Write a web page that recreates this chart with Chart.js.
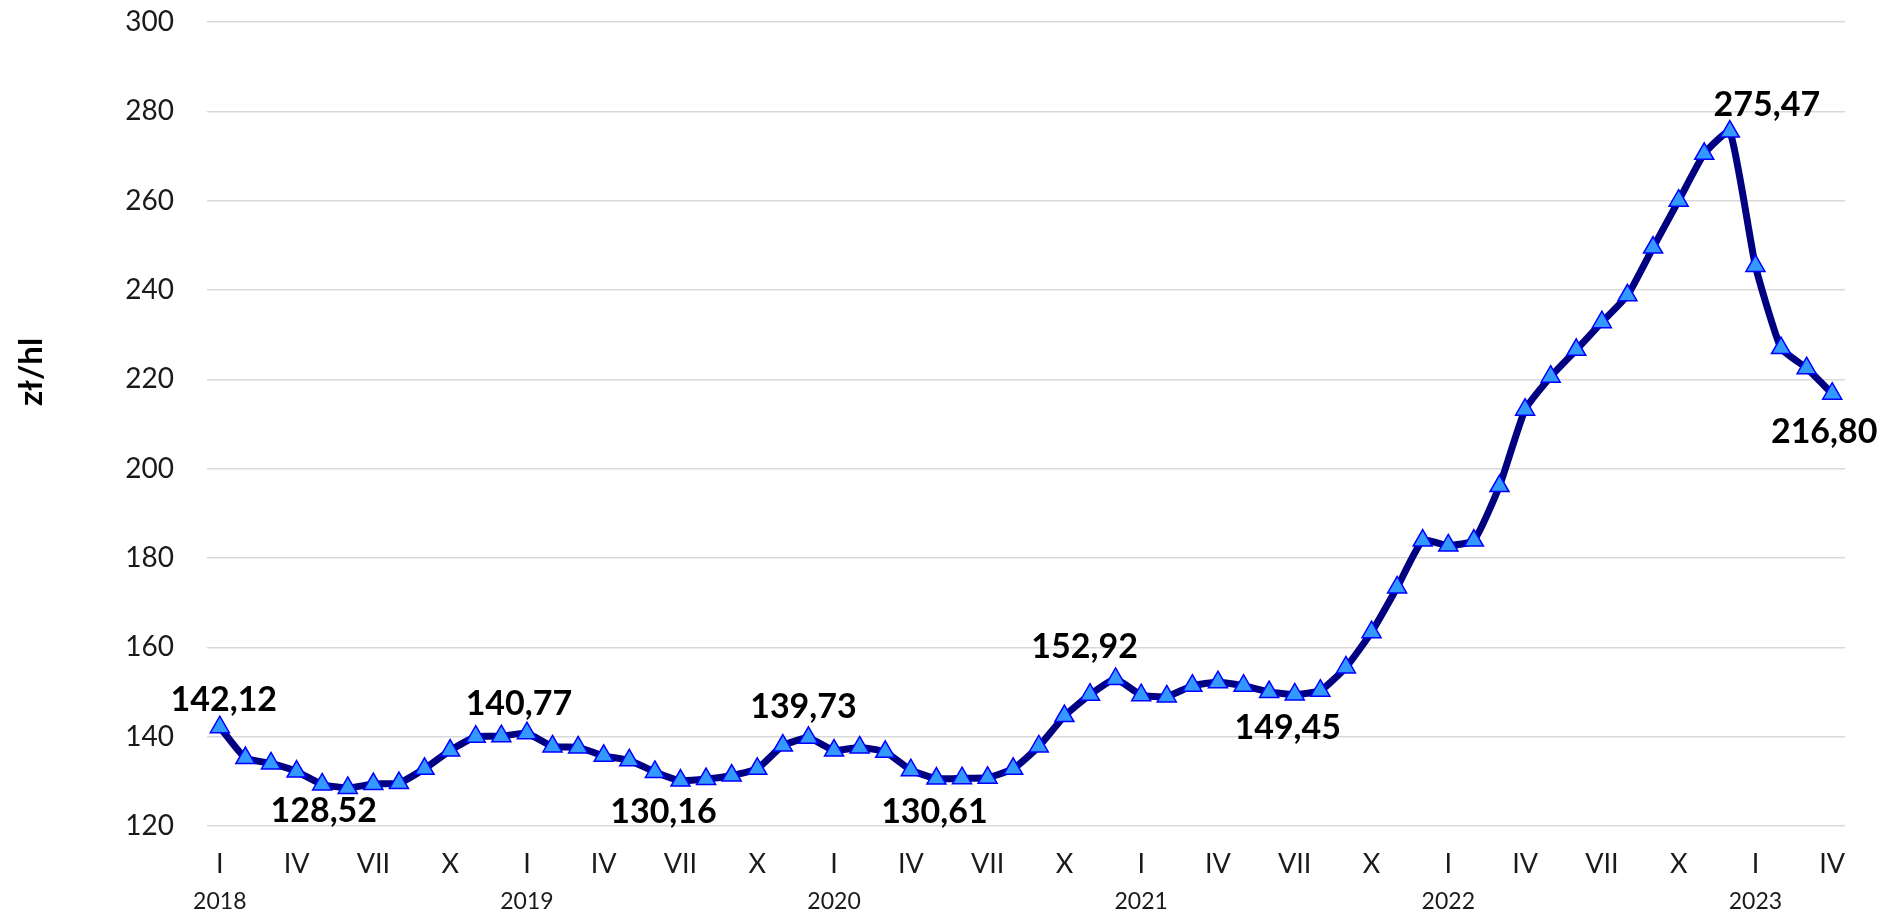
<!DOCTYPE html>
<html>
<head>
<meta charset="utf-8">
<title>Ceny - zł/hl</title>
<script src="https://cdn.jsdelivr.net/npm/chart.js@4.4.0/dist/chart.umd.min.js"></script>
<style>
  html, body { margin: 0; padding: 0; background: #fff; }
  #wrap { width: 1890px; height: 915px; }
</style>
</head>
<body>
<div id="wrap"><canvas id="priceChart" width="1890" height="915"></canvas></div>
<script>
// data
var years = ['2018', '2019', '2020', '2021', '2022', '2023'];
var romanMonths = ['I', 'II', 'III', 'IV', 'V', 'VI', 'VII', 'VIII', 'IX', 'X', 'XI', 'XII'];

var prices = [
    // 2018
    142.12, 135.2, 134.0, 132.2, 129.3, 128.52, 129.4, 129.6, 132.8, 136.9, 140.0, 140.1,
    // 2019
    140.77, 137.8, 137.6, 135.7, 134.7, 132.1, 130.16, 130.5, 131.3, 132.8, 138.0, 139.73,
    // 2020
    136.9, 137.6, 136.6, 132.5, 130.61, 130.7, 130.8, 132.8, 137.8, 144.6, 149.4, 152.92,
    // 2021
    149.3, 149.0, 151.4, 152.2, 151.4, 150.0, 149.45, 150.3, 155.5, 163.4, 173.4, 183.9,
    // 2022
    182.8, 183.9, 196.1, 213.2, 220.6, 226.6, 232.8, 238.8, 249.5, 260.0, 270.5, 275.47,
    // 2023
    245.4, 227.0, 222.5, 216.80
];

// points that carry a value label
var labelledPoints = [0, 5, 12, 18, 23, 28, 35, 42, 59, 63];

var yMin = 120, yMax = 300, yStep = 20;

// one category per month
var months = [];
for (var i = 0; i < prices.length; i++) {
    months.push(romanMonths[i % 12] + ' ' + years[Math.floor(i / 12)]);
}

function fmt(v) {
    return v.toFixed(2).replace('.', ',');
}

// value labels, offsets in px from the marker
var valueLabels = {
    id: 'valueLabels',
    afterDatasetsDraw: function (chart, args, opts) {
        var meta = chart.getDatasetMeta(0);
        var ctx = chart.ctx;
        ctx.save();
        ctx.font = opts.font;
        ctx.fillStyle = opts.color;
        ctx.textAlign = 'center';
        ctx.textBaseline = 'middle';
        labelledPoints.forEach(function (idx, k) {
            var pt = meta.data[idx];
            var off = opts.offsets[k];
            ctx.fillText(fmt(prices[idx]), pt.x + off[0], pt.y + off[1]);
        });
        ctx.restore();
    }
};

// rotated unit title on the left
var unitTitle = {
    id: 'unitTitle',
    afterDraw: function (chart, args, opts) {
        var ctx = chart.ctx;
        ctx.save();
        ctx.translate(opts.x, opts.y);
        ctx.rotate(-Math.PI / 2);
        ctx.font = opts.font;
        ctx.fillStyle = '#000';
        ctx.textAlign = 'center';
        ctx.textBaseline = 'alphabetic';
        ctx.fillText(opts.text, 0, 0);
        ctx.restore();
    }
};

var priceChart = new Chart(document.getElementById('priceChart'), {
    type: 'line',
    data: {
        labels: months,
        datasets: [{
            data: prices,
            borderColor: '#000080',
            borderWidth: 7,
            tension: 0.15,
            pointStyle: 'triangle',
            pointRadius: 11,
            pointBackgroundColor: '#3399ff',
            pointBorderColor: '#0000ff',
            pointBorderWidth: 1.5
        }]
    },
    options: {
        responsive: false,
        animation: false,
        events: [],
        layout: {
            padding: { top: 22, right: 45, left: 0, bottom: 0 }
        },
        scales: {
            y: {
                min: yMin,
                max: yMax,
                afterFit: function (scale) {
                    scale.width = 207;
                    // tick padding would otherwise push the plot down
                    scale.paddingTop = 0;
                    scale.paddingBottom = 0;
                },
                ticks: {
                    stepSize: yStep,
                    padding: 33,
                    color: '#1a1a1a',
                    font: { family: 'Lato', size: 28 }
                },
                grid: {
                    color: '#d9d9d9',
                    lineWidth: 1.5,
                    drawTicks: false
                },
                border: { display: false }
            },
            x: {
                offset: true,
                weight: 0,
                afterFit: function (scale) { scale.height = 60; },
                ticks: {
                    autoSkip: false,
                    maxRotation: 0,
                    padding: 22,
                    color: '#1a1a1a',
                    font: { family: 'Lato', size: 27 },
                    callback: function (value, index) {
                        return index % 3 === 0 ? romanMonths[index % 12] : '';
                    }
                },
                grid: { display: false, drawTicks: false },
                border: { display: false }
            },
            x2: {
                type: 'category',
                position: 'bottom',
                offset: true,
                weight: 1,
                afterFit: function (scale) { scale.height = 29; },
                ticks: {
                    autoSkip: false,
                    maxRotation: 0,
                    padding: 2,
                    color: '#1a1a1a',
                    font: { family: 'Lato', size: 23 },
                    callback: function (value, index) {
                        return index % 12 === 0 ? years[index / 12] : '';
                    }
                },
                grid: { display: false, drawTicks: false },
                border: { display: false }
            }
        },
        plugins: {
            legend: { display: false },
            tooltip: { enabled: false },
            valueLabels: {
                font: 'bold 34px Lato',
                color: '#000',
                offsets: [[4, -27], [-24, 23], [-8, -29], [-17, 31], [-5, -31],
                          [-2, 33], [-31, -32], [-7, 34], [37, -27], [-8, 38]]
            },
            unitTitle: { text: 'zł/hl', x: 42, y: 372, font: 'bold 33px Lato' }
        }
    },
    plugins: [valueLabels, unitTitle]
});
</script>
</body>
</html>
